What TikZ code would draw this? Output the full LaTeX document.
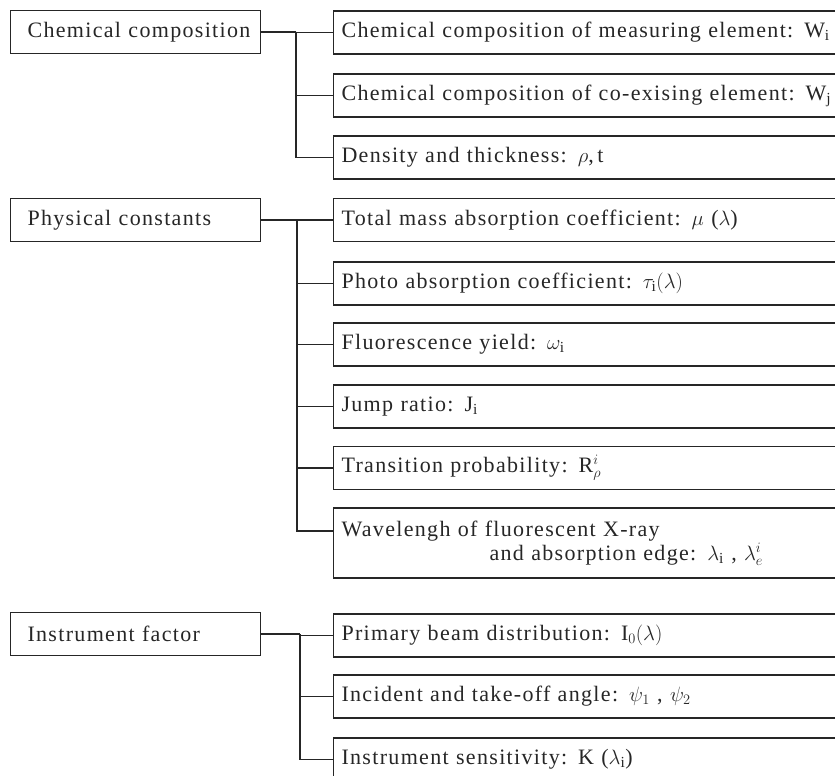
\documentclass[tikz,border=0pt]{standalone}
\usepackage{fontspec}
\setmainfont{Liberation Serif}[LetterSpace=6]
\tikzset{
  head/.style={draw, rectangle, anchor=west, minimum height=43pt,
    text width=216pt, inner xsep=17pt, align=left},
  item/.style={draw, rectangle, anchor=west, minimum height=43pt,
    text width=495pt, inner xsep=8pt, align=left}
}
\begin{document}
\begin{tikzpicture}[x=1pt,y=-1pt,line width=1.1pt,color=black!85,
    font=\fontsize{22}{24}\selectfont]
      \useasboundingbox (0,0) rectangle (835,776);
      \clip (0,0) rectangle (835,776);
      \node[head] (chem) at (10,32) {\mbox{Chemical composition}};
      \node[head] (phys) at (10,220) {Physical constants};
      \node[head] (inst) at (10,634) {Instrument factor};
      \node[item] (meas) at (333,32.5) {Chemical composition of measuring element: W$_{\mathrm{i}}$};
      \node[item] (coex) at (333,95.5) {Chemical composition of co-exising element: W$_{\mathrm{j}}$};
      \node[item] (dens) at (333,157.5) {Density and thickness: $\rho$,\,t};
      \node[item] (tmass) at (333,220) {Total mass absorption coefficient: $\mu$\ ($\lambda$)};
      \node[item] (photo) at (333,283.5) {Photo absorption coefficient: $\tau_{\mathrm{i}}(\lambda)$};
      \node[item] (fyield) at (333,344.5) {Fluorescence yield: $\omega_{\mathrm{i}}$};
      \node[item] (jump) at (333,406.5) {Jump ratio: J$_{\mathrm{i}}$};
      \node[item] (trans) at (333,468) {Transition probability: R$^{i}_{\rho}$};
      \node[item,minimum height=70pt] (wave) at (333,543)
        {Wavelengh of fluorescent X-ray\\\hspace*{148pt}and absorption edge: $\lambda_{\mathrm{i}}$\ , $\lambda^{i}_{e}$};
      \node[item] (beam) at (333,635.5) {Primary beam distribution: I$_{0}(\lambda)$};
      \node[item] (angle) at (333,696.5) {Incident and take-off angle: $\psi_{1}$\ , $\psi_{2}$};
      \node[item] (sens) at (333,759.5) {Instrument sensitivity: K\ ($\lambda_{\mathrm{i}}$)};
      \coordinate (chemfork) at (296,32);
      \coordinate (physfork) at (297,220);
      \coordinate (instfork) at (300,634);
      \draw (chem.east)--(chemfork);
      \foreach \k in {meas,coex,dens} \draw (chemfork) |- (\k.west);
      \draw (phys.east)--(physfork);
      \foreach \k in {tmass,photo,fyield,jump,trans} \draw (physfork) |- (\k.west);
      \draw (physfork) |- ([yshift=12pt]wave.west);
      \draw (inst.east)--(instfork);
      \foreach \k in {beam,angle,sens} \draw (instfork) |- (\k.west);
   \end{tikzpicture}
\end{document}
